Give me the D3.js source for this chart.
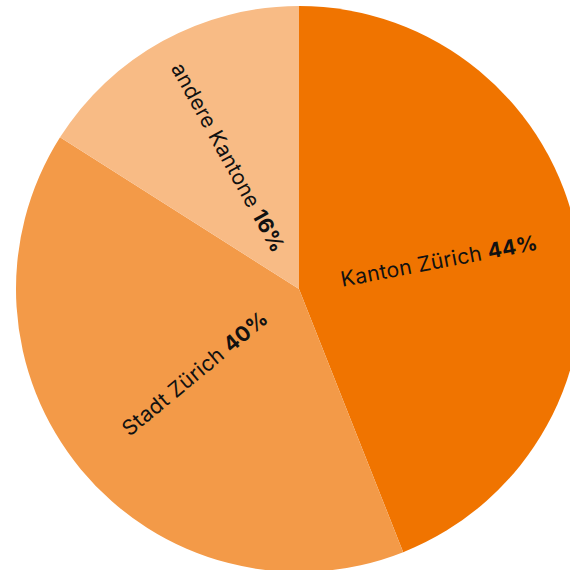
<!DOCTYPE html>
<html>
<head>
<meta charset="utf-8">
<script src="https://cdn.jsdelivr.net/npm/d3@7"></script>
<style>
  html, body { margin: 0; padding: 0; background: #fff; }
  svg { display: block; }
</style>
</head>
<body>
<svg id="chart"></svg>
<script>
// shares of origin
var labels = ["Kanton Zürich", "Stadt Zürich", "andere Kantone"]
var shares = [44, 40, 16]
var colors = ["#f07400", "#f39a48", "#f8bb85"]

var dimensions = {
    width: 570,
    height: 570,
    cx: 299,
    cy: 289,
    radius: 283,
    labelInner: 43
}

var svg = d3.select("#chart")
            .attr("width", dimensions.width)
            .attr("height", dimensions.height)

var data = labels.map(function(l, i){
    return {name: l, value: shares[i], color: colors[i]}
})

var pie = d3.pie()
            .sort(null)
            .value(d => d.value)

var arc = d3.arc()
            .innerRadius(0)
            .outerRadius(dimensions.radius)

var g = svg.append("g")
            .attr("transform", `translate(${dimensions.cx},${dimensions.cy})`)

var arcs = pie(data)

g.selectAll("path")
    .data(arcs)
    .enter()
    .append("path")
    .attr("d", arc)
    .attr("fill", d => d.data.color)

//labels run along the radius, their inner end near the centre
var text = g.selectAll("text")
    .data(arcs)
    .enter()
    .append("text")
    .attr("font-family", "Inter, 'Noto Sans', sans-serif")
    .attr("font-size", 21)
    .attr("letter-spacing", 0.3)
    .attr("fill", "#111")
    .attr("dominant-baseline", "middle")
    .attr("transform", function(d){
        var mid = (d.startAngle + d.endAngle) / 2
        var deg = mid * 180 / Math.PI - 90   // angle of radius in screen coords
        var x = Math.sin(mid) * dimensions.labelInner
        var y = -Math.cos(mid) * dimensions.labelInner
        // left half: flip so text reads towards the centre
        if (mid > Math.PI) deg += 180
        return `translate(${x},${y}) rotate(${deg})`
    })
    .attr("text-anchor", function(d){
        var mid = (d.startAngle + d.endAngle) / 2
        return mid > Math.PI ? "end" : "start"
    })

text.append("tspan")
    .text(d => d.data.name + " ")
text.append("tspan")
    .attr("font-weight", "bold")
    .text(d => d.data.value + "%")
</script>
</body>
</html>
